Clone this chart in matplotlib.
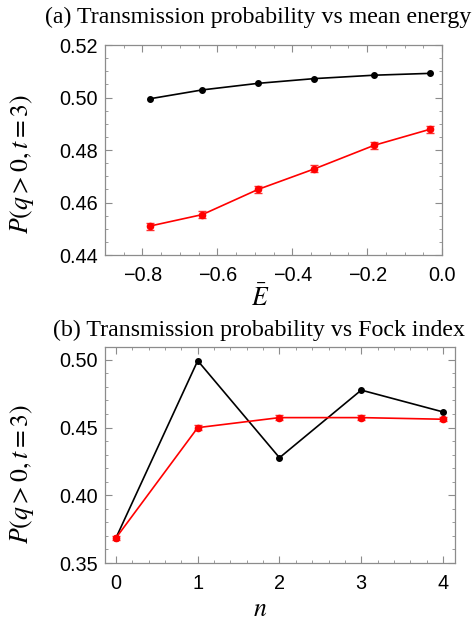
import numpy as np
import matplotlib.pyplot as plt
from matplotlib.ticker import MultipleLocator

plt.rcParams['font.family'] = ['Liberation Sans', 'DejaVu Sans']
plt.rcParams['mathtext.fontset'] = 'stix'

# panel (a): transmission vs mean energy
E_bar = [-0.781, -0.640, -0.491, -0.341, -0.181, -0.032]
p_black_a = [0.4995, 0.5029, 0.5054, 0.5072, 0.5085, 0.5092]
p_red_a = [0.4510, 0.4554, 0.4650, 0.4728, 0.4818, 0.4879]
err_red_a = [0.0013, 0.0013, 0.0013, 0.0013, 0.0013, 0.0013]

# panel (b): transmission vs Fock index
n_idx = [0, 1, 2, 3, 4]
p_black_b = [0.3685, 0.4993, 0.4277, 0.4776, 0.4615]
p_red_b = [0.3685, 0.4499, 0.4573, 0.4573, 0.4561]
err_red_b = [0.0016, 0.0016, 0.0016, 0.0016, 0.0016]

fig = plt.figure(figsize=(4.73, 6.2), dpi=100)
ax1 = fig.add_axes([0.222, 0.5887, 0.7125, 0.3387])
ax2 = fig.add_axes([0.222, 0.0919, 0.740, 0.3484])

frame = '#8c8c8c'

def style(ax):
    for s in ax.spines.values():
        s.set_color(frame)
        s.set_linewidth(0.9)
    ax.tick_params(which='both', direction='in', top=True, right=True, color=frame)
    ax.tick_params(which='major', length=5, width=0.8, labelsize=14.3)
    ax.tick_params(which='minor', length=2.5, width=0.6)
    ax.tick_params(axis='x', which='major', pad=8)
    ax.tick_params(axis='y', which='major', pad=5)

# (a)
ax1.plot(E_bar, p_black_a, '-o', color='black', lw=1.2, ms=4)
ax1.errorbar(E_bar, p_red_a, yerr=err_red_a, fmt='-o', color='#ff0000', lw=1.2, ms=4.5,
             capsize=3, elinewidth=1, capthick=1, ecolor='#ff3030')
ax1.set_xlim(-0.9, 0.0)
ax1.set_ylim(0.44, 0.52)
ax1.xaxis.set_minor_locator(MultipleLocator(0.05))
ax1.yaxis.set_minor_locator(MultipleLocator(0.005))
ax1.set_xticks([-0.8, -0.6, -0.4, -0.2, 0.0])
ax1.set_xticklabels(['\u22120.8', '\u22120.6', '\u22120.4', '\u22120.2', '0.0'])
ax1.set_yticks([0.44, 0.46, 0.48, 0.50, 0.52])
ax1.set_yticklabels(['0.44', '0.46', '0.48', '0.50', '0.52'])
style(ax1)
ax1.set_ylabel(r'$P(q>0,t=3)$', fontsize=18.5)
ax1.yaxis.set_label_coords(-0.205, 0.433)
ax1.set_xlabel(r'$\bar{E}$', fontsize=18.5, va='center')
ax1.xaxis.set_label_coords(0.46, -0.205)
fig.text(0.546, 1 - 17 / 620, '(a) Transmission probability vs mean energy',
         family='Liberation Serif', fontsize=17.2, ha='center', va='center')

# (b)
ax2.plot(n_idx, p_black_b, '-o', color='black', lw=1.2, ms=4)
ax2.errorbar(n_idx, p_red_b, yerr=err_red_b, fmt='-o', color='#ff0000', lw=1.2, ms=4.5,
             capsize=3, elinewidth=1, capthick=1, ecolor='#ff3030')
ax2.set_xlim(-0.134, 4.147)
ax2.set_ylim(0.35, 0.5094)
ax2.xaxis.set_major_locator(MultipleLocator(1))
ax2.xaxis.set_minor_locator(MultipleLocator(0.2))
ax2.yaxis.set_minor_locator(MultipleLocator(0.01))
ax2.set_yticks([0.35, 0.40, 0.45, 0.50])
ax2.set_yticklabels(['0.35', '0.40', '0.45', '0.50'])
style(ax2)
ax2.set_ylabel(r'$P(q>0,t=3)$', fontsize=18.5)
ax2.yaxis.set_label_coords(-0.198, 0.41)
ax2.set_xlabel(r'$n$', fontsize=18.5, va='center')
ax2.xaxis.set_label_coords(0.443, -0.212)
fig.text(0.548, 1 - 330 / 620, '(b) Transmission probability vs Fock index',
         family='Liberation Serif', fontsize=17.2, ha='center', va='center')

fig.savefig('out.png', dpi=100)
